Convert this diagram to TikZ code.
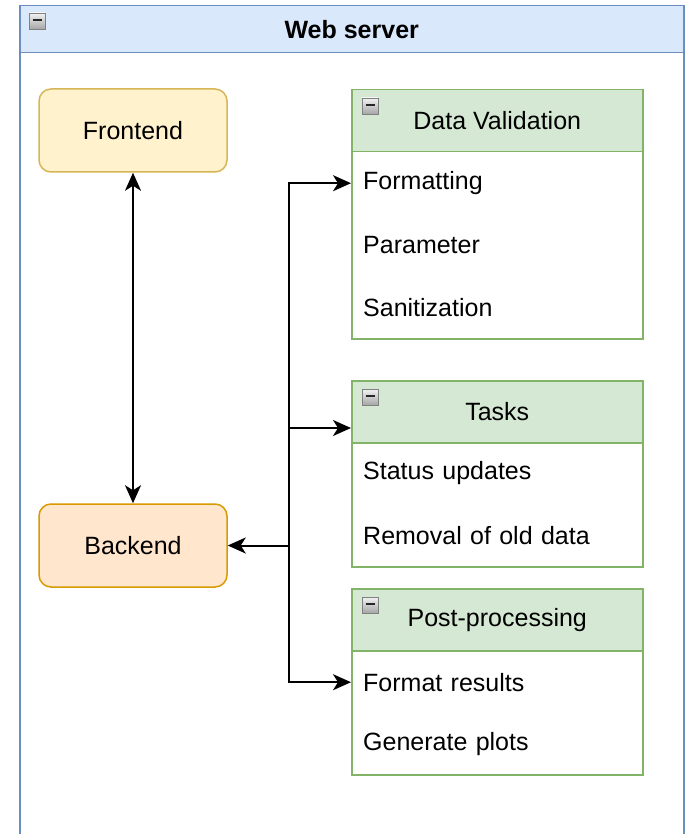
\documentclass[tikz,border=0pt]{standalone}
\usepackage{fontspec}
\setmainfont{Liberation Sans}
\usetikzlibrary{arrows.meta}
\definecolor{blueF}{HTML}{DAE8FC}
\definecolor{blueS}{HTML}{6C8EBF}
\definecolor{greenF}{HTML}{D5E8D4}
\definecolor{greenS}{HTML}{82B366}
\definecolor{yelF}{HTML}{FFF2CC}
\definecolor{yelS}{HTML}{D6B656}
\definecolor{orF}{HTML}{FFE6CC}
\definecolor{orS}{HTML}{D79B00}
\tikzset{
  box/.style={draw, line width=1.5pt, rounded corners=12pt, minimum width=188pt, minimum height=83pt, inner sep=0pt},
  hdr/.style={draw=greenS, fill=greenF, line width=1.5pt, minimum width=291pt, minimum height=62pt, anchor=north west, inner sep=0pt},
  body/.style={draw=greenS, fill=white, line width=1.5pt, minimum width=291pt, anchor=north west, inner sep=0pt},
  item/.style={minimum height=62pt, text width=267pt, align=left, anchor=north west, inner xsep=12pt, inner ysep=0pt},
  mini/.style={draw=black!50, line width=0.8pt, top color=black!5, bottom color=black!35, minimum size=16pt, inner sep=0pt,
    path picture={\draw[line width=2.2pt, black!85] ([xshift=-4.5pt,yshift=1pt]path picture bounding box.center) -- ([xshift=4.5pt,yshift=1pt]path picture bounding box.center);}},
  arr/.style={line width=2pt, -{Stealth[length=18pt,width=16pt,inset=5pt]}},
  darr/.style={line width=2pt, {Stealth[length=18pt,width=16pt,inset=5pt]}-{Stealth[length=18pt,width=16pt,inset=5pt]}}
}
\begin{document}
\begin{tikzpicture}[x=1pt,y=-1pt,font=\fontsize{25}{29}\selectfont]
\useasboundingbox (0,0) rectangle (686,834);
\clip (0,0) rectangle (686,834);
\fill[white] (0,0) rectangle (686,834);
% outer container
\node[draw=blueS, fill=white, line width=1.5pt, minimum width=664pt, minimum height=900pt, anchor=north west, inner sep=0pt] (wsbody) at (19,52) {};
\node[draw=blueS, fill=blueF, line width=1.5pt, minimum width=664pt, minimum height=47pt, anchor=north west, inner sep=0pt] (ws) at (19,5) {\textbf{Web server}};
\node[mini] (wsi) at (37,21) {};
% frontend / backend
\node[box, draw=yelS, fill=yelF] (fe) at (133,130.5) {Frontend};
\node[box, draw=orS, fill=orF] (be) at (133,545.5) {Backend};
% Data Validation
\node[body, minimum height=187pt] (dvb) at (351,151) {};
\node[hdr] (dv) at (351,89) {Data Validation};
\node[mini] (dvi) at (370,106) {};
\node[item] (fmt) at (351,152) {Formatting};
\node[item] (par) at (351,214) {Parameter};
\node[item] (san) at (351,276) {Sanitization};
% Tasks
\node[body, minimum height=125pt] (tkb) at (351,441) {};
\node[hdr] (tk) at (351,380) {Tasks};
\node[mini] (tki) at (370,397) {};
\node[item] (stu) at (351,442) {Status updates};
\node[item] (rem) at (351,504) {Removal of old data};
% Post-processing
\node[body, minimum height=124pt] (ppb) at (351,650) {};
\node[hdr] (pp) at (351,588) {Post-processing};
\node[mini] (ppi) at (370,605) {};
\node[item] (fr) at (351,651) {Format results};
\node[item] (gp) at (351,713) {Generate plots};
% connectors
\draw[darr] (fe) -- (be);
\coordinate (j) at (289,545.5);
\coordinate (tin) at (351,428);
\draw[arr] (j) -- (be);
\draw[arr] (j) |- (fmt.west);
\draw[arr] (j) |- (tin);
\draw[arr] (j) |- (fr.west);
\end{tikzpicture}
\end{document}
